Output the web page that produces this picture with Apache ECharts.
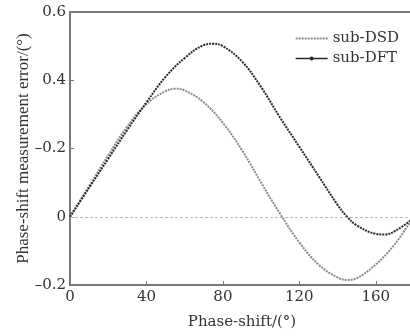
<!DOCTYPE html>
<html>
<head>
<meta charset="utf-8">
<script src="https://cdn.jsdelivr.net/npm/echarts@6/dist/echarts.min.js"></script>
<style>html,body{margin:0;padding:0;background:#fff}#c{width:410px;height:336px}</style>
</head>
<body>
<div id="c"></div>
<script>
var dsdX = [0, 10, 20, 30, 40, 50, 55, 60, 70, 80, 90, 100, 110, 120, 130, 140, 145, 150, 160, 170, 178];
var dsdY = [0, 0.09, 0.18, 0.265, 0.33, 0.368, 0.375, 0.37, 0.335, 0.275, 0.195, 0.1, 0.008, -0.075, -0.14, -0.178, -0.185, -0.18, -0.14, -0.08, -0.015];
var dftX = [0, 10, 20, 30, 40, 50, 60, 70, 75, 80, 90, 100, 110, 120, 130, 140, 145, 150, 160, 165, 170, 178];
var dftY = [0, 0.085, 0.17, 0.255, 0.335, 0.41, 0.465, 0.503, 0.507, 0.5, 0.455, 0.38, 0.29, 0.205, 0.12, 0.035, 0, -0.025, -0.05, -0.052, -0.042, -0.012];
var yTickValues = [-0.2, 0, 0.2, 0.4, 0.6];
var yTickLabels = ['\u20130.2', '0', '\u20130.2', '0.4', '0.6'];
var xTickLabels = ['0', '40', '80', '120', '160'];

function pairs(xs, ys) { return xs.map(function (x, i) { return [x, ys[i]]; }); }

var hFont = 'DejaVu Serif';
var vFont = 'Liberation Serif';
var txt = '#333';
var axisCol = '#777';
var chart = echarts.init(document.getElementById('c'));
chart.setOption({
  animation: false,
  textStyle: { fontFamily: hFont },
  grid: { left: 70, right: -4, top: 12, bottom: 51, show: false, containLabel: false, outerBoundsMode: 'none' },
  legend: {
    orient: 'vertical', right: 6, top: 26, itemGap: 5, itemWidth: 32, itemHeight: 5,
    textStyle: { fontFamily: hFont, fontSize: 15, color: txt },
    data: [
      { name: 'sub-DSD', itemStyle: { color: 'rgba(0,0,0,0)', borderWidth: 0 } },
      { name: 'sub-DFT', lineStyle: { type: 'solid', width: 1.5 } }
    ]
  },
  xAxis: {
    type: 'value', min: 0, max: 180, interval: 40,
    name: 'Phase-shift/(\u00b0)', nameLocation: 'middle', nameGap: 30, nameMoveOverlap: false,
    nameTextStyle: { fontFamily: hFont, fontSize: 15, color: txt },
    axisLine: { show: true, onZero: false, lineStyle: { color: axisCol, width: 2 } },
    axisTick: { show: true, inside: true, length: 4, lineStyle: { color: axisCol } },
    axisLabel: {
      fontFamily: hFont, fontSize: 15, color: txt, margin: 5, showMaxLabel: false,
      formatter: function (v) { var i = Math.round(v / 40); return (v % 40 === 0 && i < xTickLabels.length) ? xTickLabels[i] : ''; }
    },
    splitLine: { show: false }
  },
  yAxis: [{
    type: 'value', min: -0.2, max: 0.6, interval: 0.2,
    name: 'Phase-shift measurement error/(\u00b0)', nameLocation: 'middle', nameGap: 38, nameMoveOverlap: false,
    nameTextStyle: { fontFamily: vFont, fontSize: 17, color: txt },
    axisLine: { show: true, onZero: false, lineStyle: { color: axisCol, width: 2 } },
    axisTick: { show: true, inside: true, length: 4, lineStyle: { color: axisCol } },
    axisLabel: {
      fontFamily: hFont, fontSize: 15, color: txt, margin: 4,
      formatter: function (v) {
        for (var i = 0; i < yTickValues.length; i++) if (Math.abs(yTickValues[i] - v) < 1e-6) return yTickLabels[i];
        return '';
      }
    },
    splitLine: { show: false }
  }],
  series: [
    {
      name: 'sub-DSD', type: 'line', smooth: 0.4, showSymbol: false, symbol: 'none',
      data: pairs(dsdX, dsdY),
      lineStyle: { color: '#8a8a8a', width: 2, type: [2, 1] },
      itemStyle: { color: '#8a8a8a' },
      markLine: {
        silent: true, symbol: 'none', label: { show: false },
        lineStyle: { color: '#bbb', width: 1, type: [3, 2] },
        data: [{ yAxis: 0 }]
      }
    },
    {
      name: 'sub-DFT', type: 'line', smooth: 0.4, showSymbol: false, symbol: 'circle', symbolSize: 4,
      data: pairs(dftX, dftY),
      lineStyle: { color: '#2a2a2a', width: 2, type: [2, 1] },
      itemStyle: { color: '#2a2a2a' }
    }
  ],
  graphic: [{
    type: 'line', shape: { x1: 70, y1: 12, x2: 410, y2: 12 },
    style: { stroke: axisCol, lineWidth: 2 }, silent: true
  }]
});
</script>
</body>
</html>
